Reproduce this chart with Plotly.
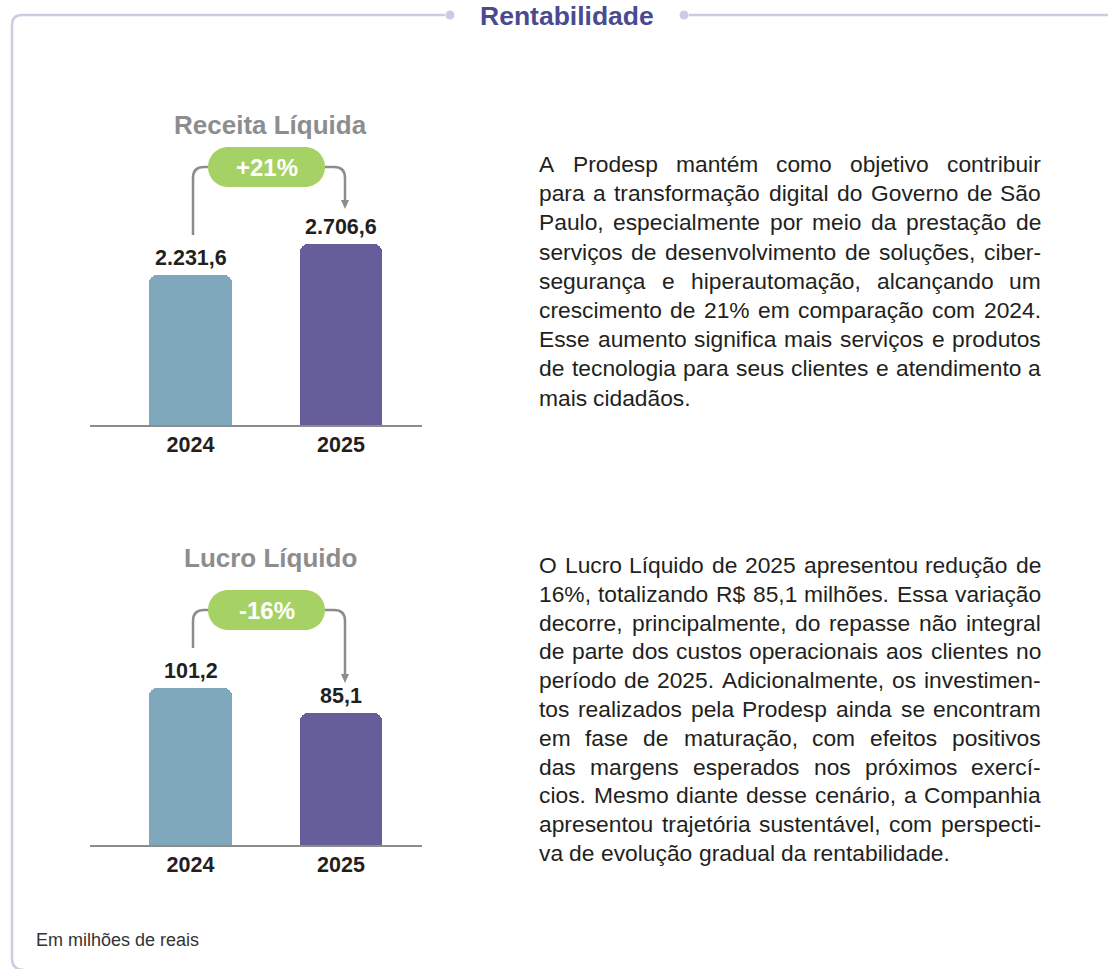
import unicodedata
import plotly.graph_objects as go

W, H = 1108, 969
FONT = "Liberation Sans, Arial, Helvetica, sans-serif"

# ---------------- data ----------------
section_title = "Rentabilidade"
years = ["2024", "2025"]

receita_title = "Receita Líquida"
receita_values = [2231.6, 2706.6]
receita_labels = ["2.231,6", "2.706,6"]
receita_change = "+21%"

lucro_title = "Lucro Líquido"
lucro_values = [101.2, 85.1]
lucro_labels = ["101,2", "85,1"]
lucro_change = "-16%"

footnote = "Em milhões de reais"

receita_text = [
    "A Prodesp mantém como objetivo contribuir",
    "para a transformação digital do Governo de São",
    "Paulo, especialmente por meio da prestação de",
    "serviços de desenvolvimento de soluções, ciber-",
    "segurança e hiperautomação, alcançando um",
    "crescimento de 21% em comparação com 2024.",
    "Esse aumento significa mais serviços e produtos",
    "de tecnologia para seus clientes e atendimento a",
    "mais cidadãos.",
]
lucro_text = [
    "O Lucro Líquido de 2025 apresentou redução de",
    "16%, totalizando R$ 85,1 milhões. Essa variação",
    "decorre, principalmente, do repasse não integral",
    "de parte dos custos operacionais aos clientes no",
    "período de 2025. Adicionalmente, os investimen-",
    "tos realizados pela Prodesp ainda se encontram",
    "em fase de maturação, com efeitos positivos",
    "das margens esperados nos próximos exercí-",
    "cios. Mesmo diante desse cenário, a Companhia",
    "apresentou trajetória sustentável, com perspecti-",
    "va de evolução gradual da rentabilidade.",
]

# ---------------- styles ----------------
bar_colors = ["#7fa8bd", "#655e9b"]
frame_color = "#cdcbe4"
title_color = "#4a4a8f"
chart_title_color = "#8d8d8d"
pill_color = "#a5d165"
connector_color = "#8c8c8c"
text_color = "#231f20"


def px(x):
    return x / W


def py(y):
    return 1 - y / H


# Arial / Liberation Sans advance widths (per 1000 em)
ARIAL = {" ": 278, ",": 278, ".": 278, "-": 333, "%": 889, "$": 556, "+": 584}
for c in "0123456789":
    ARIAL[c] = 556
for c, w in zip("ABCDEFGHIJKLMNOPQRSTUVWXYZ",
                [667, 667, 722, 722, 667, 611, 778, 722, 278, 500, 667, 556, 833,
                 722, 778, 667, 778, 722, 667, 611, 722, 667, 944, 667, 667, 611]):
    ARIAL[c] = w
for c, w in zip("abcdefghijklmnopqrstuvwxyz",
                [556, 556, 500, 556, 556, 278, 556, 556, 222, 222, 500, 222, 833,
                 556, 556, 556, 556, 333, 500, 278, 556, 500, 722, 500, 500, 500]):
    ARIAL[c] = w


def text_em(s):
    t = 0
    for ch in s:
        if ch == "í":
            t += 278
            continue
        base = unicodedata.normalize("NFD", ch)[0]
        t += ARIAL.get(base, 556)
    return t / 1000.0


fig = go.Figure()
shapes = []
annotations = []

# ---------------- bars ----------------
X_RANGE = [-0.668, 1.538]
for vals, labels, xa, ya in [
    (receita_values, receita_labels, "x", "y"),
    (lucro_values, lucro_labels, "x2", "y2"),
]:
    fig.add_trace(go.Bar(
        x=years, y=vals, xaxis=xa, yaxis=ya, width=0.55,
        marker=dict(color=bar_colors, line=dict(width=0), cornerradius=8),
        hoverinfo="skip",
    ))
    # category axes: annotation x given as the category's serial index
    for idx, (v, lab) in enumerate(zip(vals, labels)):
        annotations.append(dict(
            x=idx, y=v, xref=xa, yref=ya, text=lab, showarrow=False,
            xanchor="center", yanchor="bottom", yshift=3,
            font=dict(family=FONT, size=21.5, color=text_color, weight="bold"),
        ))

axis_common = dict(
    range=X_RANGE, domain=[px(90), px(422)], showgrid=False, zeroline=False,
    showline=True, linecolor=connector_color, linewidth=2, ticks="",
    tickfont=dict(family=FONT, size=21.5, color=text_color, weight="bold"),
    ticklabelstandoff=-1, fixedrange=True, type="category",
)
fig.update_layout(
    xaxis=dict(anchor="y", **axis_common),
    xaxis2=dict(anchor="y2", **axis_common),
    yaxis=dict(domain=[py(425), py(225)], range=[0, 2984], visible=False,
               fixedrange=True),
    yaxis2=dict(domain=[py(845), py(645)], range=[0, 129], visible=False,
                fixedrange=True),
)

# ---------------- frame ----------------
frame_path = (f"M {px(445)} {py(15)} L {px(22)} {py(15)} "
              f"Q {px(12)} {py(15)} {px(12)} {py(25)} "
              f"L {px(12)} {py(958)} Q {px(12)} {py(970)} {px(24)} {py(970)}")
shapes.append(dict(type="path", xref="paper", yref="paper", path=frame_path,
                   line=dict(color=frame_color, width=2.5)))
shapes.append(dict(type="line", xref="paper", yref="paper",
                   x0=px(689), x1=px(1110), y0=py(15), y1=py(15),
                   line=dict(color=frame_color, width=2.5)))
for cx in (450, 684):
    shapes.append(dict(type="circle", xref="paper", yref="paper",
                       x0=px(cx - 4.5), x1=px(cx + 4.5), y0=py(15 + 4.5), y1=py(15 - 4.5),
                       fillcolor=frame_color, line=dict(width=0)))
annotations.append(dict(
    x=px(567), y=py(16), xref="paper", yref="paper", text=section_title,
    showarrow=False, xanchor="center", yanchor="middle",
    font=dict(family=FONT, size=26.5, color=title_color, weight="bold"),
))


# ---------------- pills & connectors ----------------
def pill_path(x0, x1, yc, h):
    r = h / 2.0
    k = 0.5523 * r
    y0, y1 = yc - r, yc + r
    pts = [
        ("M", [(x0 + r, y0)]),
        ("L", [(x1 - r, y0)]),
        ("C", [(x1 - r + k, y0), (x1, yc - k), (x1, yc)]),
        ("C", [(x1, yc + k), (x1 - r + k, y1), (x1 - r, y1)]),
        ("L", [(x0 + r, y1)]),
        ("C", [(x0 + r - k, y1), (x0, yc + k), (x0, yc)]),
        ("C", [(x0, yc - k), (x0 + r - k, y0), (x0 + r, y0)]),
    ]
    s = ""
    for cmd, pl in pts:
        s += cmd + " " + " ".join(f"{px(a):.5f} {py(b):.5f}" for a, b in pl) + " "
    return s + "Z"


def add_change(title, title_y, change, pill_yc, left_bottom, arrow_tip):
    annotations.append(dict(
        x=px(270), y=py(title_y), xref="paper", yref="paper", text=title,
        showarrow=False, xanchor="center", yanchor="middle",
        font=dict(family=FONT, size=26, color=chart_title_color, weight="bold"),
    ))
    lx, rx = 193, 345
    left = (f"M {px(lx)} {py(left_bottom)} L {px(lx)} {py(pill_yc + 11)} "
            f"Q {px(lx)} {py(pill_yc)} {px(lx + 11)} {py(pill_yc)} "
            f"L {px(215)} {py(pill_yc)}")
    right = (f"M {px(318)} {py(pill_yc)} L {px(rx - 11)} {py(pill_yc)} "
             f"Q {px(rx)} {py(pill_yc)} {px(rx)} {py(pill_yc + 11)} "
             f"L {px(rx)} {py(arrow_tip - 7)}")
    for p in (left, right):
        shapes.append(dict(type="path", xref="paper", yref="paper", path=p,
                           line=dict(color=connector_color, width=2.5)))
    head = (f"M {px(rx - 4)} {py(arrow_tip - 9)} L {px(rx + 4)} {py(arrow_tip - 9)} "
            f"L {px(rx)} {py(arrow_tip)} Z")
    shapes.append(dict(type="path", xref="paper", yref="paper", path=head,
                       fillcolor=connector_color, line=dict(width=0)))
    shapes.append(dict(type="path", xref="paper", yref="paper",
                       path=pill_path(208, 325, pill_yc, 40),
                       fillcolor=pill_color, line=dict(width=0)))
    annotations.append(dict(
        x=px(266.5), y=py(pill_yc), xref="paper", yref="paper", text=change,
        showarrow=False, xanchor="center", yanchor="middle",
        font=dict(family=FONT, size=24, color="white", weight="bold"),
    ))


add_change(receita_title, 125, receita_change, 167, 235, 209)
add_change(lucro_title, 558, lucro_change, 610, 648, 683)

# ---------------- justified paragraphs ----------------
TX0, TX1 = 539, 1041
TW = TX1 - TX0
max_em = max(text_em(l) for l in receita_text[:-1] + lucro_text[:-1])
FS = min(22.8, TW / max_em * 0.995)


def add_paragraph(lines, y_first, spacing):
    for li, line in enumerate(lines):
        words = line.split(" ")
        widths = [text_em(w) * FS for w in words]
        last = li == len(lines) - 1
        if last or len(words) == 1:
            gap = text_em(" ") * FS
        else:
            gap = (TW - sum(widths)) / (len(words) - 1)
        x = TX0
        yc = y_first + li * spacing
        for w, wd in zip(words, widths):
            annotations.append(dict(
                x=px(x), y=py(yc), xref="paper", yref="paper", text=w,
                showarrow=False, xanchor="left", yanchor="middle",
                borderpad=0, borderwidth=0,
                font=dict(family=FONT, size=FS, color=text_color),
            ))
            x += wd + gap


add_paragraph(receita_text, 164, 29.2)
add_paragraph(lucro_text, 565, 28.8)

annotations.append(dict(
    x=px(35), y=py(940), xref="paper", yref="paper", text=footnote,
    showarrow=False, xanchor="left", yanchor="middle", borderpad=0,
    font=dict(family=FONT, size=18, color="#333333"),
))

fig.update_layout(
    width=W, height=H, margin=dict(l=0, r=0, t=0, b=0, pad=0),
    paper_bgcolor="white", plot_bgcolor="white", showlegend=False,
    bargap=0,
)
fig.layout.shapes = shapes
fig.layout.annotations = annotations

fig.write_html(
    "out.html",
    config={"displayModeBar": False},
    post_script="document.body.style.margin='0';document.body.style.overflow='hidden';",
)
